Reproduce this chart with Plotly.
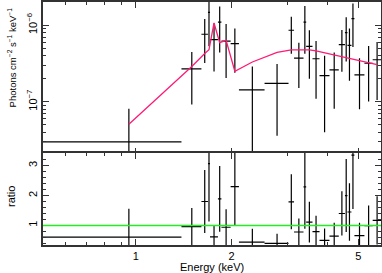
import plotly.graph_objects as go

# ---- data ----
energy = [0.951, 1.499, 1.646, 1.6975, 1.7605, 1.834, 1.921, 2.0465, 2.3225, 2.777,
          3.0785, 3.251, 3.395, 3.508, 3.6815, 3.916, 4.198, 4.438, 4.5785, 4.6875,
          4.807, 5.041, 5.384, 5.7245]
half_width = [0.44, 0.108, 0.039, 0.0125, 0.0505, 0.023, 0.064, 0.0615, 0.2145, 0.24,
              0.0615, 0.111, 0.033, 0.08, 0.0935, 0.141, 0.141, 0.099, 0.0415, 0.0675,
              0.052, 0.182, 0.161, 0.1795]
flux = [3.0e-8, 2.69e-7, 7.62e-7, 1.47e-6, 6.49e-7, 1.10e-6, 6.2e-7, 5.74e-7, 1.43e-7, 1.74e-7,
        8.59e-7, 3.72e-7, 1.10e-6, 5.3e-7, 3.65e-7, 2.2e-7, 2.61e-7, 5.57e-7, 8.02e-7, 5.46e-7,
        1.22e-6, 2.25e-7, 3.19e-7, 3.54e-7]
flux_err = [5.1e-8, 1.77e-7, 4.4e-7, 9.4e-7, 4.0e-7, 6.6e-7, 4.15e-7, 3.35e-7, 1.46e-7, 1.38e-7,
            4.35e-7, 2.2e-7, 6.75e-7, 3.3e-7, 2.55e-7, 1.8e-7, 1.8e-7, 3.1e-7, 4.65e-7, 3.58e-7,
            7.0e-7, 1.45e-7, 2.18e-7, 2.48e-7]
model = [5.09e-8, 2.89e-7, 4.28e-7, 4.79e-7, 1.07e-6, 5.92e-7, 6.35e-7, 2.51e-7, 3.31e-7, 4.42e-7,
         4.76e-7, 4.79e-7, 4.79e-7, 4.76e-7, 4.61e-7, 4.35e-7, 4.09e-7, 3.91e-7, 3.79e-7, 3.74e-7,
         3.65e-7, 3.46e-7, 3.26e-7, 3.07e-7]
ratio = [0.61, 0.96, 1.80, 3.07, 0.62, 1.89, 0.94, 2.30, 0.44, 0.40,
         1.79, 0.78, 2.29, 1.11, 0.79, 0.50, 0.64, 1.40, 2.0, 1.45,
         3.35, 0.66, 0.99, 1.17]
ratio_err = [0.95, 0.62, 1.05, 1.94, 0.37, 1.1, 0.6, 1.31, 0.45, 0.32,
             0.92, 0.45, 1.40, 0.68, 0.53, 0.40, 0.45, 0.74, 1.22, 0.96,
             1.8, 0.43, 0.68, 0.81]

x_major = [1, 2, 5]
x_major_text = ["1", "2", "5"]
x_minor = [0.6, 0.7, 0.8, 0.9, 3, 4]
y_major = [1e-7, 1e-6]
y_major_text = ["10<sup>−7</sup>", "10<sup>−6</sup>"]
y_minor = [m * 10.0 ** e for e in (-8, -7) for m in range(2, 10)]
ratio_major = [1, 2, 3]

FONT = "Liberation Sans, Arial, sans-serif"
AX = "#333333"
DATA_C = "#000000"
MODEL_C = "#ff1a75"
ONE_C = "#22ee22"

fig = go.Figure()

fig.add_trace(go.Scatter(
    x=energy, y=flux, mode="markers", xaxis="x", yaxis="y",
    marker=dict(size=1, color="rgba(0,0,0,0)"),
    error_x=dict(type="data", array=half_width, color=DATA_C, thickness=1.2, width=0),
    error_y=dict(type="data", array=flux_err, color=DATA_C, thickness=1.2, width=0),
    showlegend=False, hoverinfo="skip"))
fig.add_trace(go.Scatter(
    x=energy, y=model, mode="lines", xaxis="x", yaxis="y",
    line=dict(color=MODEL_C, width=1.3), showlegend=False, hoverinfo="skip"))
fig.add_trace(go.Scatter(
    x=energy, y=ratio, mode="markers", xaxis="x2", yaxis="y2",
    marker=dict(size=1, color="rgba(0,0,0,0)"),
    error_x=dict(type="data", array=half_width, color=DATA_C, thickness=1.2, width=0),
    error_y=dict(type="data", array=ratio_err, color=DATA_C, thickness=1.2, width=0),
    showlegend=False, hoverinfo="skip"))

fig.add_shape(type="line", xref="x2 domain", x0=0, x1=1, yref="y2", y0=1, y1=1,
              line=dict(color=ONE_C, width=1.5), layer="above")

split = 0.3765
common = dict(showline=True, linecolor=AX, linewidth=1.5, mirror="allticks",
              ticks="inside", tickcolor=AX, tickwidth=1, ticklen=6,
              showgrid=False, zeroline=False, automargin=False,
              tickfont=dict(family=FONT, size=11, color="#000"))
xrange = [-0.2915, 0.7700]

fig.update_layout(
    width=382, height=273,
    margin=dict(l=43, r=1, t=2, b=28, autoexpand=False),
    paper_bgcolor="white", plot_bgcolor="white",
    font=dict(family=FONT, size=11, color="#000"),
    xaxis=dict(type="log", range=xrange, anchor="y", matches="x2",
               tickmode="array", tickvals=x_major, ticktext=x_major_text,
               showticklabels=False,
               minor=dict(tickmode="array", tickvals=x_minor, ticks="inside",
                          ticklen=3, tickcolor=AX, showgrid=False),
               **common),
    yaxis=dict(type="log", range=[-7.684, -5.697], domain=[split - 0.003, 1], anchor="x",
               tickmode="array", tickvals=y_major, ticktext=y_major_text,
               tickangle=-90,
               minor=dict(tickmode="array", tickvals=y_minor, ticks="inside",
                          ticklen=3, tickcolor=AX, showgrid=False),
               **common),
    xaxis2=dict(type="log", range=xrange, anchor="y2",
                tickmode="array", tickvals=x_major, ticktext=x_major_text,
                tickangle=0,
                minor=dict(tickmode="array", tickvals=x_minor, ticks="inside",
                           ticklen=3, tickcolor=AX, showgrid=False),
                **common),
    yaxis2=dict(range=[0.346, 3.43], domain=[0, split + 0.003], anchor="x2",
                tickmode="array", tickvals=ratio_major,
                tickangle=-90,
                minor=dict(dtick=0.2, tick0=0, ticks="inside", ticklen=3,
                           tickcolor=AX, showgrid=False),
                **common),
)

fig.add_annotation(text="Energy (keV)", xref="paper", yref="paper",
                   x=0.5, y=-0.092, xanchor="center", yanchor="middle",
                   showarrow=False, font=dict(family=FONT, size=11))
fig.add_annotation(text="Photons cm<sup>−2</sup> s<sup>−1</sup> keV<sup>−1</sup>",
                   xref="paper", yref="paper", x=-0.0917, y=0.772,
                   xanchor="center", yanchor="middle", textangle=-90,
                   showarrow=False, font=dict(family=FONT, size=9.5))
fig.add_annotation(text="ratio", xref="paper", yref="paper",
                   x=-0.0947, y=0.2016, xanchor="center", yanchor="middle",
                   textangle=-90, showarrow=False, font=dict(family=FONT, size=11))

fig.write_html("out.html",
               config={"displayModeBar": False},
               post_script="document.body.style.margin='0';document.body.style.overflow='hidden';")
